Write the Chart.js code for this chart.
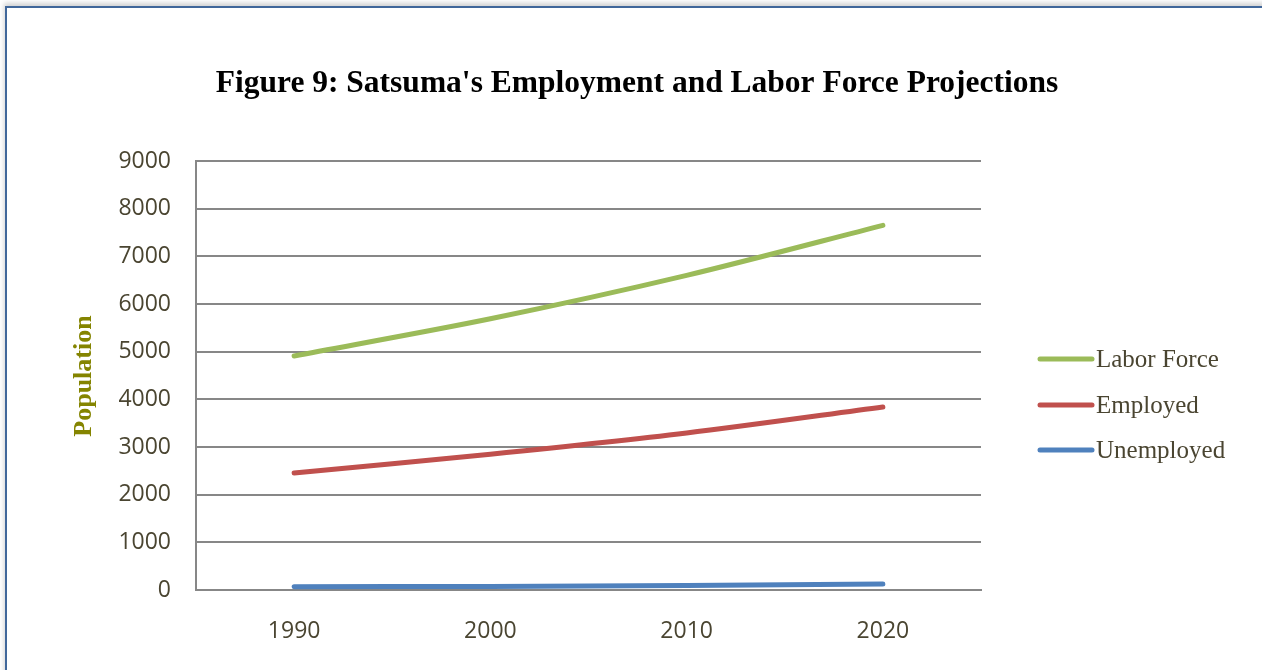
<!DOCTYPE html>
<html>
<head>
<meta charset="utf-8">
<script src="https://cdn.jsdelivr.net/npm/chart.js@4"></script>
<style>
  html, body { margin: 0; padding: 0; background: #fff; }
  body { width: 1262px; height: 670px; position: relative; overflow: hidden; }
  #frame {
    position: absolute; left: 5px; top: 6px; width: 1300px; height: 700px;
    border-top: 2px solid #41679a; border-left: 2px solid #41679a;
    box-shadow: -1px -3px 5px rgba(0,0,0,0.18);
  }
  canvas { position: absolute; left: 0; top: 0; }
</style>
</head>
<body>
<div id="frame"></div>
<canvas id="c" width="1262" height="670"></canvas>
<script>
// Census years and projected counts (persons)
const years = ['1990', '2000', '2010', '2020'];
const laborForce = [4910, 5690, 6600, 7650];
const employed = [2455, 2850, 3295, 3840];
const unemployed = [70, 75, 95, 125];
const yTicks = [0, 1000, 2000, 3000, 4000, 5000, 6000, 7000, 8000, 9000];

const chartTitle = "Figure 9: Satsuma's Employment and Labor Force Projections";
const yTitle = 'Population';

const textColor = '#4a4531';
const gridColor = '#878787';

// Title, vertical axis title and the legend on the right
const decorations = {
  id: 'decorations',
  afterDraw(chart) {
    const ctx = chart.ctx;
    ctx.save();
    ctx.fillStyle = '#000';
    ctx.font = 'bold 31.5px "Liberation Serif"';
    ctx.textAlign = 'center';
    ctx.textBaseline = 'alphabetic';
    ctx.fillText(chartTitle, 637, 92);

    ctx.save();
    ctx.translate(91, 376);
    ctx.rotate(-Math.PI / 2);
    ctx.fillStyle = '#848400';
    ctx.font = 'bold 26px "Liberation Serif"';
    ctx.textAlign = 'center';
    ctx.textBaseline = 'alphabetic';
    ctx.fillText(yTitle, 0, 0);
    ctx.restore();

    const rows = [359, 405, 450];
    chart.data.datasets.forEach((ds, i) => {
      const y = rows[i];
      ctx.strokeStyle = ds.borderColor;
      ctx.lineWidth = 5;
      ctx.lineCap = 'round';
      ctx.beginPath();
      ctx.moveTo(1040, y);
      ctx.lineTo(1092, y);
      ctx.stroke();
      ctx.fillStyle = textColor;
      ctx.font = '25px "Liberation Serif"';
      ctx.textAlign = 'left';
      ctx.textBaseline = 'middle';
      ctx.fillText(ds.label, 1096, y + 1);
    });
    ctx.restore();
  }
};

new Chart(document.getElementById('c'), {
  type: 'line',
  data: {
    labels: years,
    datasets: [
      { label: 'Labor Force', data: laborForce, borderColor: '#9bbb59' },
      { label: 'Employed', data: employed, borderColor: '#c0504d' },
      { label: 'Unemployed', data: unemployed, borderColor: '#4f81bd' }
    ]
  },
  options: {
    responsive: false,
    animation: false,
    devicePixelRatio: 1,
    layout: { padding: { left: 0, top: 161, right: 281, bottom: 0 } },
    elements: {
      line: { borderWidth: 5, tension: 0.3, borderCapStyle: 'round', fill: false },
      point: { radius: 0, hoverRadius: 0 }
    },
    plugins: { legend: { display: false }, title: { display: false }, tooltip: { enabled: false } },
    scales: {
      x: {
        offset: true,
        grid: { display: false, drawTicks: false },
        border: { display: true, color: gridColor, width: 2 },
        ticks: { color: textColor, font: { family: '"Open Sans"', size: 23 }, padding: 28 },
        afterFit(s) { s.height = 80; }
      },
      y: {
        min: 0, max: 9000,
        afterBuildTicks(s) { s.ticks = yTicks.map(v => ({ value: v })); },
        grid: { color: gridColor, lineWidth: 2, drawTicks: false },
        border: { display: true, color: gridColor, width: 2 },
        ticks: {
          color: textColor, font: { family: '"Open Sans"', size: 23 }, padding: 25,
          callback: v => String(v)
        },
        afterFit(s) { s.width = 196; }
      }
    }
  },
  plugins: [decorations]
});
</script>
</body>
</html>
